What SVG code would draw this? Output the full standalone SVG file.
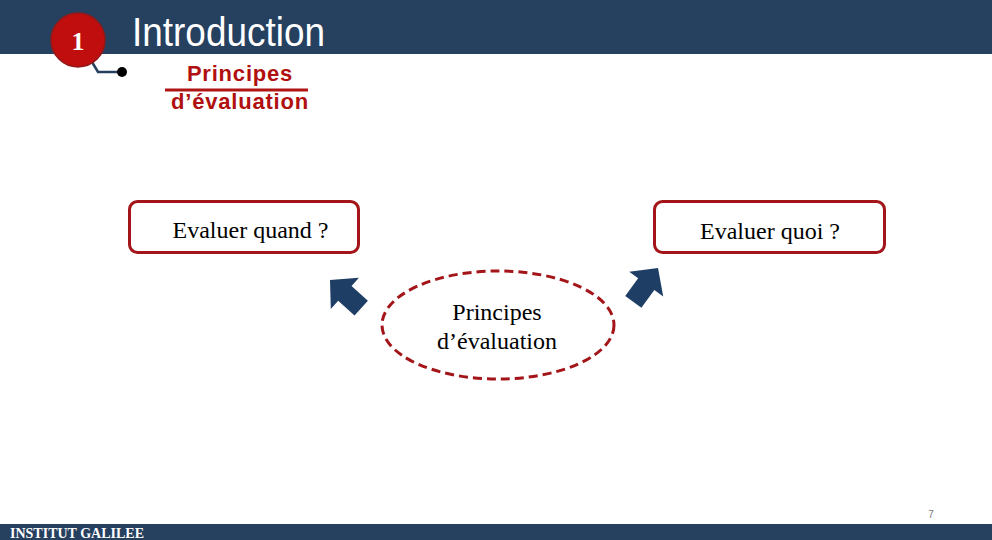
<svg xmlns="http://www.w3.org/2000/svg" width="992" height="540" viewBox="0 0 992 540">
<style>
.box{fill:#fff;stroke:#a31519;stroke-width:3}
.serif{font-family:"Liberation Serif","Times New Roman",serif;fill:#000;font-size:24px}
.sub{font-family:"Liberation Sans",Arial,sans-serif;font-size:22px;font-weight:bold;fill:#b01010;letter-spacing:0.8px}
.arrow{fill:#1f3e66}
</style>
<rect width="992" height="540" fill="#fff"/>
<g id="header">
<rect x="0" y="0" width="992" height="54" fill="#26405f"/>
<text x="132" y="46" font-family="Liberation Sans, Arial, sans-serif" font-size="41" fill="#fff" textLength="193" lengthAdjust="spacingAndGlyphs">Introduction</text>
</g>
<g id="badge">
<polyline points="92,62 98,72 122,72" fill="none" stroke="#26405f" stroke-width="2.5"/>
<circle cx="122" cy="72" r="5" fill="#000"/>
<circle cx="78" cy="40" r="27" fill="#c00d0d" stroke="#8f1a1a" stroke-width="1.5"/>
<text x="78" y="50" text-anchor="middle" font-family="Liberation Serif, serif" font-weight="bold" font-size="26" fill="#fff">1</text>
</g>
<g id="subtitle">
<line x1="165" y1="90" x2="308" y2="90" stroke="#b01515" stroke-width="3"/>
<text class="sub" x="240" y="81" text-anchor="middle">Principes</text>
<text class="sub" x="240" y="109" text-anchor="middle">d’évaluation</text>
</g>
<g id="quand">
<rect class="box" x="129.5" y="201.5" width="229" height="51" rx="8"/>
<text class="serif" x="250.5" y="238" text-anchor="middle">Evaluer quand ?</text>
</g>
<g id="quoi">
<rect class="box" x="654.5" y="201.5" width="230" height="51" rx="8"/>
<text class="serif" x="770" y="239" text-anchor="middle">Evaluer quoi ?</text>
</g>
<g id="principes">
<ellipse cx="498" cy="325" rx="116" ry="54" fill="#fff" stroke="#a31519" stroke-width="3" stroke-dasharray="9,5"/>
<text class="serif" x="497" y="320" text-anchor="middle">Principes</text>
<text class="serif" x="497" y="349" text-anchor="middle">d’évaluation</text>
</g>
<g id="connectors">
<polygon class="arrow" transform="translate(330,280) rotate(-138)" points="0,0 -20,-21 -20,-10 -42,-10 -42,10 -20,10 -20,21"/>
<polygon class="arrow" transform="translate(658,268) rotate(-54)" points="0,0 -20,-21 -20,-10 -42,-10 -42,10 -20,10 -20,21"/>
</g>
<g id="footer">
<rect x="0" y="524" width="992" height="16" fill="#26405f"/>
<text x="10" y="538" font-family="Liberation Serif, serif" font-weight="bold" font-size="14" fill="#fff">INSTITUT GALILEE</text>
<text x="931" y="518" text-anchor="middle" font-family="Liberation Sans, Arial, sans-serif" font-size="10" fill="#777">7</text>
</g>
</svg>
